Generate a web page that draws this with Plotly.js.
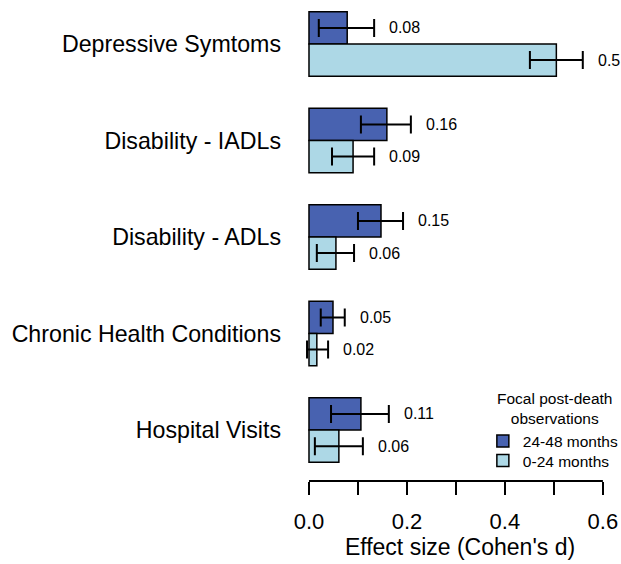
<!DOCTYPE html>
<html>
<head>
<meta charset="utf-8">
<script src="https://cdn.plot.ly/plotly-3.0.1.min.js"></script>
<style>html,body{margin:0;padding:0;background:#fff;}#chart{width:621px;height:564px;}</style>
</head>
<body>
<div id="chart"></div>
<script>
const categories = ["Depressive Symtoms", "Disability - IADLs", "Disability - ADLs", "Chronic Health Conditions", "Hospital Visits"];
const seriesNames = ["24-48 months", "0-24 months"];
const legendTitle = "Focal post-death<br>observations";

const effect_24_48 = [0.078, 0.159, 0.147, 0.049, 0.106];
const lower_24_48  = [0.020, 0.106, 0.100, 0.024, 0.045];
const upper_24_48  = [0.133, 0.208, 0.192, 0.073, 0.163];
const labels_24_48 = ["0.08", "0.16", "0.15", "0.05", "0.11"];

const effect_0_24 = [0.505, 0.090, 0.055, 0.016, 0.061];
const lower_0_24  = [0.451, 0.047, 0.016, -0.004, 0.012];
const upper_0_24  = [0.559, 0.133, 0.092, 0.039, 0.110];
const labels_0_24 = ["0.5", "0.09", "0.06", "0.02", "0.06"];

const xTickVals = [0, 0.1, 0.2, 0.3, 0.4, 0.5, 0.6];
const xTickText = ["0.0", "", "0.2", "", "0.4", "", "0.6"];

const FONT = "Liberation Sans, Arial, Helvetica, sans-serif";
const DARK = "#4862b0";
const LIGHT = "#add8e6";

function barTrace(name, vals, lo, hi, color, legendId) {
  return {
    type: "bar", orientation: "h", name: name, legend: legendId,
    y: categories, x: vals,
    marker: {color: color, line: {color: "#000", width: 1.5}},
    error_x: {
      type: "data", symmetric: false,
      array: vals.map((v, i) => hi[i] - v),
      arrayminus: vals.map((v, i) => v - lo[i]),
      color: "#000", thickness: 2, width: 9
    },
    hoverinfo: "x+y"
  };
}

const traces = [
  barTrace(seriesNames[0], effect_24_48, lower_24_48, upper_24_48, DARK, "legend"),
  barTrace(seriesNames[1], effect_0_24, lower_0_24, upper_0_24, LIGHT, "legend2")
];

const annotations = [];
categories.forEach((c, i) => {
  annotations.push({x: upper_24_48[i], y: i - 1/6, xref: "x", yref: "y", text: labels_24_48[i],
    showarrow: false, xanchor: "left", xshift: 13, font: {family: FONT, size: 16, color: "#000"}});
  annotations.push({x: upper_0_24[i], y: i + 1/6, xref: "x", yref: "y", text: labels_0_24[i],
    showarrow: false, xanchor: "left", xshift: 13, font: {family: FONT, size: 16, color: "#000"}});
});
annotations.push({x: 0.792, y: 0.1497, xref: "paper", yref: "paper", xanchor: "center", yanchor: "middle",
  align: "center", showarrow: false, text: legendTitle, font: {family: FONT, size: 15.5, color: "#000"}});

const legendCommon = {
  xanchor: "left", yanchor: "middle",
  bgcolor: "rgba(0,0,0,0)", borderwidth: 0,
  font: {family: FONT, size: 15.5, color: "#000"}
};

const layout = {
  width: 621, height: 564,
  margin: {l: 299, r: 0, t: 0, b: 83, pad: 0, autoexpand: false},
  paper_bgcolor: "#fff", plot_bgcolor: "#fff",
  font: {family: FONT, color: "#000"},
  barmode: "group", bargap: 1/3, bargroupgap: 0,
  xaxis: {
    range: [-0.0204, 0.637], tickvals: xTickVals, ticktext: xTickText,
    ticks: "outside", ticklen: 13, tickwidth: 2, tickcolor: "#000",
    ticklabelstandoff: 8,
    showline: false, zeroline: false, showgrid: false,
    tickfont: {family: FONT, size: 22, color: "#000"},
    title: {text: "Effect size (Cohen's d)", font: {family: FONT, size: 23, color: "#000"}, standoff: 4},
    automargin: false, fixedrange: true
  },
  yaxis: {
    type: "category", categoryarray: categories, categoryorder: "array",
    range: [4.528, -0.456], ticks: "", showline: false, zeroline: false, showgrid: false,
    ticklabelstandoff: 17,
    tickfont: {family: FONT, size: 23.2, color: "#000"},
    automargin: false, fixedrange: true
  },
  showlegend: true,
  legend: Object.assign({x: 0.571, y: 0.0821}, legendCommon),
  legend2: Object.assign({x: 0.571, y: 0.0416}, legendCommon),
  shapes: [
    {type: "line", xref: "x", yref: "paper", x0: xTickVals[0], x1: xTickVals[xTickVals.length - 1], y0: 0, y1: 0,
     line: {color: "#000", width: 2}}
  ],
  annotations: annotations
};

Plotly.newPlot("chart", traces, layout, {displayModeBar: false, staticPlot: true});
</script>
</body>
</html>
